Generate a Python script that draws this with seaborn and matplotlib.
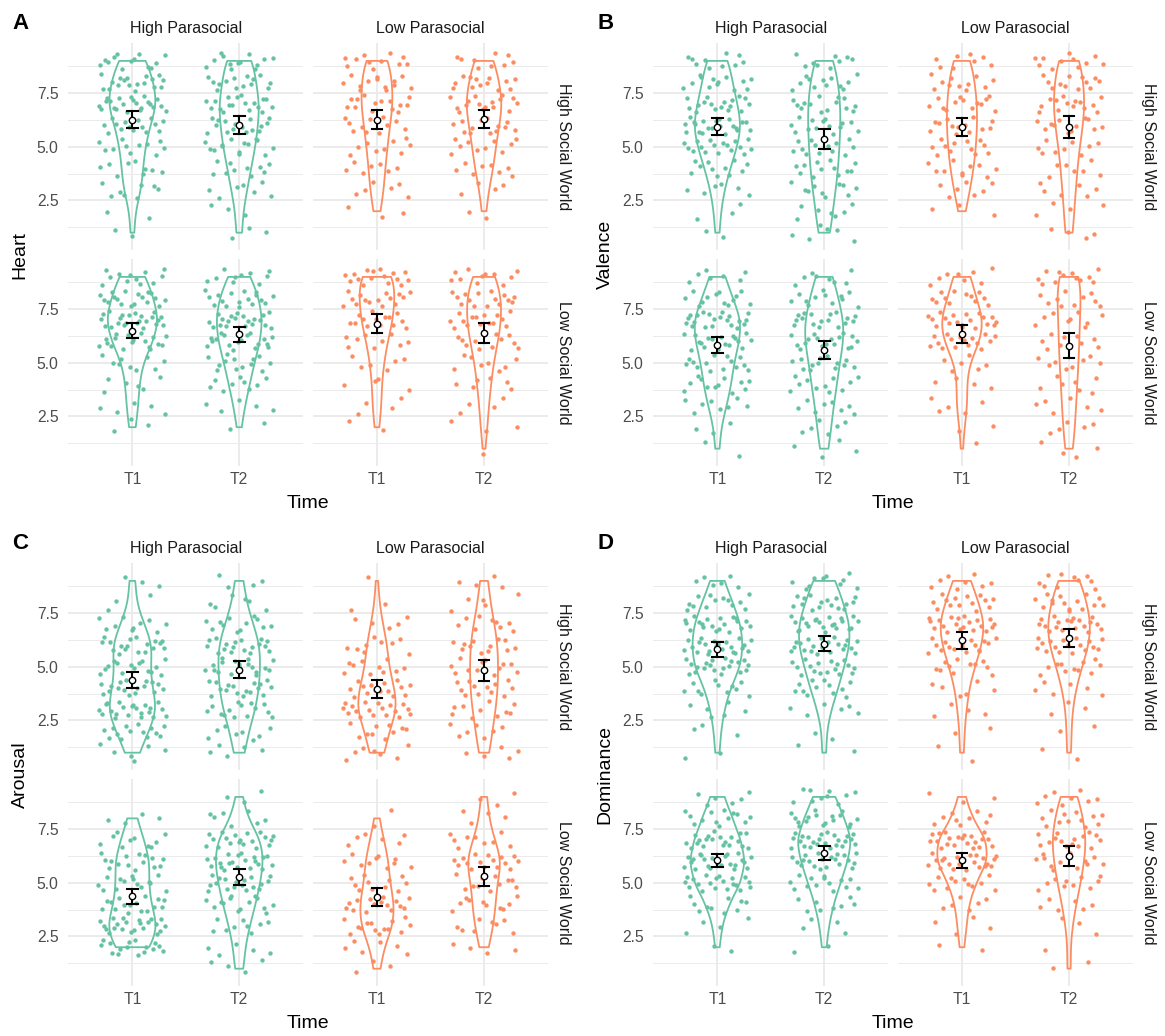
import numpy as np
import pandas as pd
import matplotlib
matplotlib.use("Agg")
import matplotlib.pyplot as plt
import seaborn as sns

# ---------------- data (counts of ratings 1..9 per group) ----------------
RATINGS = [1, 2, 3, 4, 5, 6, 7, 8, 9]
SOCIAL_WORLD = ["High Social World"] * 4 + ["Low Social World"] * 4
PARASOCIAL = ["High Parasocial", "High Parasocial", "Low Parasocial", "Low Parasocial"] * 2
TIME = ["T1", "T2"] * 4

HEART_COUNTS = [
    [2, 2, 8, 9, 11, 15, 22, 18, 13],
    [3, 3, 7, 10, 14, 16, 18, 14, 13],
    [0, 3, 6, 7, 9, 11, 14, 13, 11],
    [0, 2, 4, 8, 10, 13, 16, 13, 9],
    [0, 3, 5, 6, 9, 18, 23, 18, 12],
    [0, 2, 5, 9, 13, 18, 20, 17, 10],
    [0, 2, 4, 4, 6, 9, 14, 15, 16],
    [1, 3, 4, 6, 8, 12, 15, 15, 11],
]
VALENCE_COUNTS = [
    [2, 3, 6, 11, 17, 21, 17, 13, 10],
    [6, 7, 10, 12, 13, 14, 14, 12, 9],
    [0, 3, 7, 10, 12, 13, 13, 11, 8],
    [4, 4, 6, 7, 9, 12, 14, 12, 11],
    [2, 3, 8, 12, 14, 19, 21, 13, 7],
    [4, 6, 8, 11, 13, 17, 17, 12, 8],
    [1, 2, 5, 4, 6, 16, 19, 12, 8],
    [4, 5, 6, 7, 8, 9, 9, 10, 12],
]
AROUSAL_COUNTS = [
    [6, 14, 22, 17, 15, 18, 10, 3, 3],
    [5, 8, 14, 17, 18, 18, 12, 6, 4],
    [7, 10, 18, 15, 10, 9, 5, 2, 1],
    [5, 7, 10, 12, 12, 12, 9, 5, 4],
    [0, 16, 22, 16, 14, 15, 10, 4, 0],
    [4, 5, 9, 14, 18, 21, 19, 7, 3],
    [3, 6, 14, 15, 11, 10, 6, 2, 0],
    [0, 4, 8, 10, 11, 16, 9, 4, 3],
]
DOMINANCE_COUNTS = [
    [2, 3, 6, 11, 20, 22, 20, 13, 6],
    [2, 2, 6, 12, 17, 22, 22, 16, 10],
    [2, 2, 4, 6, 11, 17, 20, 14, 8],
    [2, 2, 3, 6, 11, 17, 19, 15, 10],
    [0, 2, 4, 10, 20, 24, 20, 13, 6],
    [0, 2, 4, 8, 14, 20, 24, 17, 10],
    [0, 2, 4, 6, 12, 22, 21, 9, 3],
    [2, 1, 3, 6, 10, 13, 15, 12, 8],
]

MEASURES = ["Heart", "Valence", "Arousal", "Dominance"]
MEASURE_COUNTS = [HEART_COUNTS, VALENCE_COUNTS, AROUSAL_COUNTS, DOMINANCE_COUNTS]
PANEL_LABELS = ["A", "B", "C", "D"]
PARASOCIAL_LEVELS = ["High Parasocial", "Low Parasocial"]
SOCIAL_LEVELS = ["High Social World", "Low Social World"]
TIME_LEVELS = ["T1", "T2"]
COLORS = {"High Parasocial": "#66C2A5", "Low Parasocial": "#FC8D62"}
Y_TICKS = [2.5, 5.0, 7.5]
Y_TICK_LABELS = ["2.5", "5.0", "7.5"]


# ---------------- low-discrepancy (Halton) jitter offsets ----------------
def halton(i, base):
    f, r = 1.0, 0.0
    while i > 0:
        f /= base
        r += f * (i % base)
        i //= base
    return r


rows = []
k = 0
for m, counts in zip(MEASURES, MEASURE_COUNTS):
    for gi, cnts in enumerate(counts):
        for r, c in zip(RATINGS, cnts):
            for _ in range(c):
                k += 1
                u = halton(k, 2)
                v = halton(k, 3)
                rows.append((m, SOCIAL_WORLD[gi], PARASOCIAL[gi], TIME[gi], r,
                             (u * 2 - 1) * 0.32, (v * 2 - 1) * 0.40))
df = pd.DataFrame(rows, columns=["measure", "social", "parasocial", "time",
                                 "value", "jx", "jy"])
df["xpos"] = df["time"].map({t: i for i, t in enumerate(TIME_LEVELS)}) + df["jx"]
df["ypos"] = df["value"] + df["jy"]

BW_ADJ = 0.9


def kde_peak_times_n(vals):
    v = np.asarray(vals, float)
    n = len(v)
    bw = v.std(ddof=1) * n ** (-0.2) * BW_ADJ
    grid = np.linspace(v.min(), v.max(), 100)
    d = np.exp(-0.5 * ((grid[:, None] - v[None, :]) / bw) ** 2).sum(1) / (n * bw * np.sqrt(2 * np.pi))
    return d.max() * n


score = df.groupby(["measure", "social", "parasocial", "time"])["value"].apply(kde_peak_times_n)
GLOBAL_MAX = score.max()
GLOBAL_W = 0.5

# ---------------- figure ----------------
plt.rcParams["font.family"] = ["Liberation Sans", "DejaVu Sans"]
W, H = 1165, 1036
fig = plt.figure(figsize=(W / 100, H / 100), dpi=100)
fig.patch.set_facecolor("white")


def rect(l, t, r, b):
    return [l / W, 1 - b / H, (r - l) / W, (b - t) / H]


def ftext(x, y, s, **kw):
    fig.text(x / W, 1 - y / H, s, **kw)


ORIGINS = [(0, 0), (585, 0), (0, 520), (585, 520)]
COLS_X = [(68.3, 303.3), (312.7, 548.3)]
ROWS_Y = [(43.3, 250.3), (259.3, 466.3)]

for m, lab, (x0, y0) in zip(MEASURES, PANEL_LABELS, ORIGINS):
    ftext(x0 + 12.5, y0 + 29.3, lab, fontsize=16, fontweight="bold", ha="left", va="baseline")
    ftext(x0 + 20, y0 + 254.8, m, fontsize=14, rotation=90, ha="center", va="center")
    ftext(x0 + 308.3, y0 + 508.3, "Time", fontsize=14, ha="center", va="baseline")
    for ci, p in enumerate(PARASOCIAL_LEVELS):
        l, r = COLS_X[ci]
        ftext(x0 + (l + r) / 2, y0 + 32.7, p, fontsize=11.5, color="#1A1A1A",
              ha="center", va="baseline")
    for ri, s in enumerate(SOCIAL_LEVELS):
        t, b = ROWS_Y[ri]
        ftext(x0 + 563.5, y0 + (t + b) / 2, s, fontsize=11.5, color="#1A1A1A",
              rotation=-90, ha="center", va="center")
        for ci, p in enumerate(PARASOCIAL_LEVELS):
            l, r = COLS_X[ci]
            ax = fig.add_axes(rect(x0 + l, y0 + t, x0 + r, y0 + b))
            sub = df[(df.measure == m) & (df.social == s) & (df.parasocial == p)]
            col = COLORS[p]
            for tt in TIME_LEVELS:
                vsub = sub[sub.time == tt]
                w = GLOBAL_W * score[(m, s, p, tt)] / GLOBAL_MAX
                sns.violinplot(data=vsub, x="time", y="value", order=TIME_LEVELS,
                               color=col, fill=False, inner=None, cut=0,
                               bw_adjust=BW_ADJ, width=w, linewidth=1.3,
                               density_norm="width", ax=ax, zorder=2)
            sns.scatterplot(x=sub["xpos"].values, y=sub["ypos"].values, color=col, s=10,
                            linewidth=0, ax=ax, legend=False, zorder=1)
            sns.pointplot(data=sub, x="time", y="value", order=TIME_LEVELS,
                          errorbar=("se", 1.96), color="black", markers="o",
                          linestyle="none", capsize=0.1, markersize=2,
                          err_kws={"linewidth": 1.5, "zorder": 3}, ax=ax, zorder=3)
            sns.pointplot(data=sub, x="time", y="value", order=TIME_LEVELS,
                          errorbar=None, color="black", markers="o", linestyle="none",
                          markersize=4.6, markerfacecolor="white",
                          markeredgecolor="black", markeredgewidth=1.0, ax=ax, zorder=4)
            ax.set_xlim(-0.6, 1.6)
            ax.set_ylim(0.18, 9.82)
            for sp in ax.spines.values():
                sp.set_visible(False)
            ax.set_facecolor("none")
            ax.set_yticks(Y_TICKS)
            ax.set_yticklabels(Y_TICK_LABELS)
            ax.set_yticks([1.25, 3.75, 6.25, 8.75], minor=True)
            ax.set_xticks([0, 1])
            ax.set_xticklabels(TIME_LEVELS)
            ax.tick_params(which="both", length=0)
            ax.tick_params(axis="y", pad=6.9, labelsize=11.3, labelcolor="#4D4D4D")
            ax.tick_params(axis="x", pad=4.4, labelsize=11.3, labelcolor="#4D4D4D")
            ax.grid(True, which="major", color="#EBEBEB", linewidth=1.4)
            ax.grid(True, which="minor", axis="y", color="#EBEBEB", linewidth=0.7)
            ax.set_axisbelow(True)
            ax.set_xlabel("")
            ax.set_ylabel("")
            if ci == 1:
                ax.tick_params(labelleft=False)
            if ri == 0:
                ax.tick_params(labelbottom=False)

fig.savefig("out.png", dpi=100, facecolor="white")
